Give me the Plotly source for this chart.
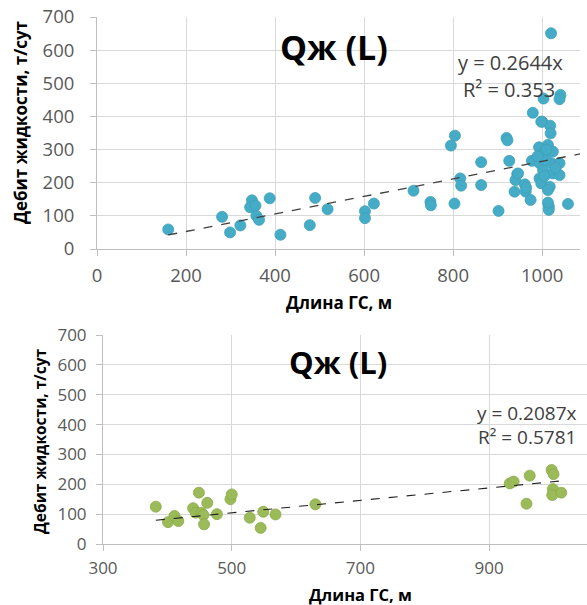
import plotly.graph_objects as go

# ---- Top chart data (Qж vs length, full set) ----
top_len = [160, 281, 299, 322, 348, 344, 356, 358, 364, 388, 412, 478, 490, 518,
           602, 602, 622, 711, 749, 750, 803, 804, 795, 816, 818, 863, 863, 902,
           920, 922, 926, 938, 944, 940, 961, 963, 974, 979, 1000, 1003, 1020,
           1041, 1039, 1018, 1019, 1015, 1015, 1058, 998, 993, 1013, 1024, 1002,
           977, 994, 1021, 1039, 1002, 1024, 1039, 946, 994, 998, 1017, 1013,
           964, 1013, 1008, 1030, 1005, 990, 1010]
top_q = [59, 97, 50, 71, 147, 126, 131, 100, 88, 153, 43, 72, 154, 120,
         114, 93, 137, 176, 142, 132, 137, 342, 312, 213, 191, 262, 193, 115,
         335, 328, 266, 173, 226, 208, 195, 173, 148, 411, 384, 454, 651,
         465, 452, 372, 349, 128, 118, 136, 384, 307, 314, 294, 289,
         266, 259, 259, 259, 238, 228, 223, 228, 213, 198, 188, 178,
         185, 140, 270, 245, 220, 280, 300]
top_slope = 0.2644
top_r2 = 0.353

# ---- Bottom chart data ----
bot_len = [382, 401, 411, 417, 440, 449, 444, 453, 456, 462, 457, 477, 498, 500,
           528, 549, 545, 568, 630, 932, 938, 963, 958, 997, 1000, 999, 998, 1012]
bot_q = [125, 73, 94, 77, 120, 172, 105, 105, 97, 138, 66, 100, 150, 166,
         88, 108, 54, 99, 133, 203, 209, 229, 135, 248, 234, 184, 164, 172]
bot_slope = 0.2087
bot_r2 = 0.5781

title_text = "Qж (L)"
x_title = "Длина ГС, м"
y_title = "Дебит жидкости, т/сут"
top_x_ticks = [0, 200, 400, 600, 800, 1000]
bot_x_ticks = [300, 500, 700, 900]
y_ticks = [0, 100, 200, 300, 400, 500, 600, 700]

TOP_XMAX = 1085
BOT_XMAX = 1052

W, H = 587, 605
FONT = "Open Sans"
TICKC = "#595959"
GRID = "#D9D9D9"
AXL = "#BFBFBF"

fig = go.Figure()

fig.add_trace(go.Scatter(x=top_len, y=top_q, mode="markers",
                         marker=dict(size=11, color="#45ACC7",
                                     line=dict(color="#3F9FB8", width=0.8)),
                         xaxis="x", yaxis="y", showlegend=False))
tx = [min(top_len), TOP_XMAX]
fig.add_trace(go.Scatter(x=tx, y=[top_slope * v for v in tx], mode="lines",
                         line=dict(color="#404040", width=1.3, dash="dash"),
                         xaxis="x", yaxis="y", showlegend=False))

fig.add_trace(go.Scatter(x=bot_len, y=bot_q, mode="markers",
                         marker=dict(size=11, color="#9BBB59",
                                     line=dict(color="#8AAA4A", width=0.8)),
                         xaxis="x2", yaxis="y2", showlegend=False))
bx = [min(bot_len), max(bot_len)]
fig.add_trace(go.Scatter(x=bx, y=[bot_slope * v for v in bx], mode="lines",
                         line=dict(color="#202020", width=1.1, dash="dash"),
                         xaxis="x2", yaxis="y2", showlegend=False))


def axis(size, ticklen, standoff):
    return dict(showgrid=True, gridcolor=GRID, gridwidth=1,
                showline=True, linecolor=AXL, linewidth=1,
                ticks="outside", ticklen=ticklen, tickcolor=AXL,
                ticklabelstandoff=standoff,
                tickfont=dict(family=FONT, size=size, color=TICKC),
                zeroline=False, automargin=False)


def py(v):
    return 1 - v / H


fig.update_layout(
    width=W, height=H, margin=dict(l=0, r=0, t=0, b=0),
    paper_bgcolor="white", plot_bgcolor="white",
    xaxis=dict(domain=[97 / W, 580 / W], range=[0, TOP_XMAX], tickvals=top_x_ticks,
               anchor="y", **axis(18.5, 6, 4)),
    yaxis=dict(domain=[py(249), py(17)], range=[0, 700], tickvals=y_ticks,
               anchor="x", **axis(18.5, 6, 12)),
    xaxis2=dict(domain=[103 / W, 1.0], range=[300, BOT_XMAX], tickvals=bot_x_ticks,
                anchor="y2", **axis(17, 6, 3)),
    yaxis2=dict(domain=[py(544), py(335)], range=[0, 700], tickvals=y_ticks,
                anchor="x2", **axis(17, 6, 6)),
)

bold = lambda s: dict(family=FONT, size=s, color="#000000", weight="bold")
eq = lambda s: dict(family=FONT, size=s, color="#404040")

ann = [
    dict(text=title_text, x=334, y=47, font=bold(34)),
    dict(text=title_text, x=338, y=362, font=bold(31)),
    dict(text=f"y = {top_slope}x", x=510, y=63, font=eq(20)),
    dict(text=f"R² = {top_r2}", x=509, y=90, font=eq(20)),
    dict(text=f"y = {bot_slope}x", x=527, y=413, font=eq(19)),
    dict(text=f"R² = {bot_r2}", x=527, y=437, font=eq(19)),
    dict(text=x_title, x=339, y=302, font=bold(17)),
    dict(text=x_title, x=360, y=594, font=bold(16.5)),
    dict(text=y_title, x=21, y=123, font=bold(17), textangle=-90),
    dict(text=y_title, x=40, y=441, font=bold(15.5), textangle=-90),
]
for a in ann:
    a["x"] = a["x"] / W
    a["y"] = py(a["y"])
    a.update(xref="paper", yref="paper", showarrow=False,
             xanchor="center", yanchor="middle", borderpad=0)
fig.update_layout(annotations=ann)

fig.write_html("out.html", config={"displayModeBar": False},
               post_script="document.body.style.margin='0';")
